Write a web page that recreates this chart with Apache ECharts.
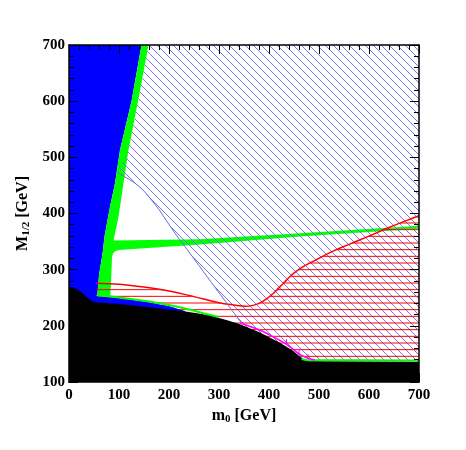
<!DOCTYPE html>
<html><head><meta charset="utf-8">
<script src="https://cdn.jsdelivr.net/npm/echarts@6/dist/echarts.min.js"></script>
<style>html,body{margin:0;padding:0;background:#fff}#c{width:466px;height:450px}</style>
</head><body><div id="c"></div>
<script>
// ---- data (m0 [GeV], M1/2 [GeV]) ----
const xTickLabels = [0,100,200,300,400,500,600,700];
const yTickLabels = [100,200,300,400,500,600,700];
const blackEdge = [[0,270],[12,267],[22,262],[30,256],[38,249],[45,244],[52,242],[82,240],[120,237],[182,231],[230,226],[282,219],[300,214],[320,209],[342,203],[382,188],[422,170],[449,155],[462,145],[470,139],[480,137],[700,136]];
const blueEdge = [[145,700],[125,600],[102,513],[92,454],[82,412],[71,359],[68,335],[65,317],[60,290],[57,258],[55,253]];
const blueStrip = [[55,253],[100,249],[150,243],[200,235],[232,226]];
const greenRightEdge = [[159,700],[138,600],[119,513],[109,454],[99,394],[89,352]];
const greenBandTop = [[89,352],[262,354],[462,365],[700,378]];
const greenBandBottom = [[700,373],[462,359],[262,345],[150,338],[100,335],[92,333],[88,329],[86,322],[85,300],[83,258],[82,253]];
const greenStrip = [[57,254],[100,250.5],[150,244.5],[200,237],[240,229],[270,222],[300,215.5]];
const greenFloor = [[465,141],[475,139],[700,138.3]];
const redCurve = [[55,276],[100,274],[150,269],[200,262],[250,252],[300,241],[330,237],[352,235],[366,236],[380,240],[395,248],[410,259],[428,275],[445,290],[462,302],[495,318],[528,333],[560,345],[595,358],[640,375],[688,392],[700,396]];
const hatchEdge = [[95,474],[110,466],[132,454],[150,440],[165,424],[180,407],[195,387],[212,365],[252,317],[285,277],[319,236],[345,205]];
const magentaLine = [[342,205],[380,193],[407,181],[435,167],[462,149],[478,142],[492,139]];
const magentaTicks = [[435,167,176],[460,150,159],[478,142,150]];

// ---- hatch patterns ----
function makeHatch(kind, color, size, n) {
  const c = document.createElement('canvas');
  c.width = size; c.height = size;
  const g = c.getContext('2d');
  g.strokeStyle = color; g.lineWidth = 1; g.lineCap = 'butt';
  g.beginPath();
  const step = size / n;
  if (kind === 'diag') {
    for (let k = -n; k <= n; k++) {
      const o = k * step;
      g.moveTo(o - 2, -2); g.lineTo(o + size + 2, size + 2);
    }
  } else {
    for (let k = 0; k < n; k++) {
      const y = 3 + k * step;
      g.moveTo(0, y); g.lineTo(size, y);
    }
  }
  g.stroke();
  return {image: c, repeat: 'repeat'};
}
const blueHatch = makeHatch('diag', '#7676e4', 24, 3);
const redHatch = makeHatch('horiz', '#ff0000', 20, 3);

function poly(ptsList, style) {
  return {
    type: 'custom', coordinateSystem: 'cartesian2d', silent: true, clip: true,
    data: [[0, 100]],
    renderItem: (params, api) => ({
      type: 'polygon',
      shape: {points: ptsList.map(p => api.coord(p))},
      style: style
    })
  };
}
function line(data, color, width, smooth) {
  return {type: 'line', data: data, symbol: 'none', smooth: smooth || 0, silent: true,
    lineStyle: {color: color, width: width}, clip: true};
}

const blueMain = blueEdge.concat(blueStrip.slice(1), [[232,150],[0,150],[0,700]]);
const greenL = blueEdge.concat(greenBandBottom.slice().reverse(), greenBandTop.slice().reverse(), greenRightEdge.slice().reverse());
const blueHatchPoly = [[159,700],[700,700],[700,100],[352,100],[350,198]].concat(hatchEdge.slice().reverse(), [[105,490],[119,513],[138,600]]);
const redHatchPoly = redCurve.concat([[700,100],[55,100]]);
const blueStripPoly = blueStrip.concat([[232,150],[45,150],[45,253]]);
const blackPoly = blackEdge.concat([[700,100],[0,100]]);

const font = {fontFamily: 'Liberation Serif', fontWeight: 'bold', fontSize: 15, color: '#000'};
function xAx(pos, show) {
  return {type: 'value', min: 0, max: 700, interval: 100, position: pos, z: 10,
    axisLine: {show: true, onZero: false, lineStyle: {color: '#000', width: 1.5}},
    axisTick: {show: true, inside: true, length: 9, lineStyle: {color: '#000', width: 1}},
    minorTick: {show: true, splitNumber: 5, length: 5, lineStyle: {color: '#000', width: 1}},
    splitLine: {show: false},
    axisLabel: Object.assign({show: show, margin: 6,
      formatter: v => (xTickLabels.indexOf(v) >= 0 ? String(v) : '')}, font)};
}
function yAx(pos, show) {
  return {type: 'value', min: 100, max: 700, interval: 100, position: pos, z: 10,
    axisLine: {show: true, onZero: false, lineStyle: {color: '#000', width: 1.5}},
    axisTick: {show: true, inside: true, length: 9, lineStyle: {color: '#000', width: 1}},
    minorTick: {show: true, splitNumber: 5, length: 5, lineStyle: {color: '#000', width: 1}},
    splitLine: {show: false},
    axisLabel: Object.assign({show: show, margin: 4,
      formatter: v => (yTickLabels.indexOf(v) >= 0 ? String(v) : '')}, font)};
}
const titleRich = {
  b: {fontFamily: 'Liberation Serif', fontWeight: 'bold', fontSize: 16, color: '#000'},
  s: {fontFamily: 'Liberation Serif', fontWeight: 'bold', fontSize: 11, color: '#000', padding: [7,0,0,0]}
};
const xa = xAx('bottom', true);
xa.name = '{b|m}{s|0}{b| [GeV]}'; xa.nameLocation = 'middle'; xa.nameGap = 23;
xa.nameTextStyle = {rich: titleRich};
const ya = yAx('left', true);
ya.name = '{b|M}{s|1/2}{b| [GeV]}'; ya.nameLocation = 'middle'; ya.nameGap = 36;
ya.nameTextStyle = {rich: titleRich};

const chart = echarts.init(document.getElementById('c'), null, {renderer: 'canvas'});
chart.setOption({
  animation: false,
  backgroundColor: '#fff',
  grid: {left: 69, right: 47, top: 45, bottom: 68},
  xAxis: [xa, xAx('top', false)],
  yAxis: [ya, yAx('right', false)],
  series: [
    poly(blueMain, {fill: '#0000ff'}),
    poly(greenL, {fill: '#00ff00'}),
    poly(blueHatchPoly, {fill: blueHatch}),
    poly(redHatchPoly, {fill: redHatch}),
    poly(blueStripPoly, {fill: '#0000ff'}),
    poly(blackPoly, {fill: '#000000'}),
    line(greenStrip, '#00ff00', 2, 0.3),
    line(greenFloor, '#00ff00', 2, 0),
    line(redCurve, '#ff0000', 1.5, 0.4),
    line(hatchEdge, '#6a6ae0', 1, 0.3),
    line(magentaLine, '#ff00ff', 1.5, 0.3),
    {type: 'custom', coordinateSystem: 'cartesian2d', silent: true, data: magentaTicks,
      renderItem: (params, api) => {
        const a = api.coord([api.value(0), api.value(1)]);
        const b = api.coord([api.value(0), api.value(2)]);
        return {type: 'line', shape: {x1: a[0], y1: a[1], x2: b[0], y2: b[1]},
          style: {stroke: '#ff00ff', lineWidth: 1}};
      }}
  ]
});
</script>
</body></html>
